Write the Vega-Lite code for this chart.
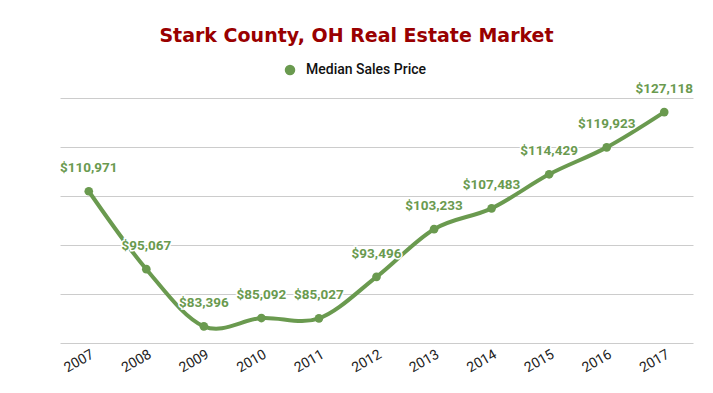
{
  "$schema": "https://vega.github.io/schema/vega-lite/v6.json",
  "width": 633,
  "height": 245,
  "autosize": {"type": "none"},
  "padding": {"left": 60, "top": 98, "right": 20, "bottom": 50},
  "background": "white",
  "title": {
    "text": "Stark County, OH Real Estate Market",
    "font": "DejaVu Sans",
    "fontSize": 19,
    "fontWeight": "bold",
    "color": "#990000",
    "anchor": "middle",
    "dx": -20,
    "offset": 17
  },
  "config": {
    "view": {"stroke": null},
    "font": "Roboto"
  },
  "data": {
    "values": [
      {"year": "2007", "price": 110971, "series": "Median Sales Price"},
      {"year": "2008", "price": 95067, "series": "Median Sales Price"},
      {"year": "2009", "price": 83396, "series": "Median Sales Price"},
      {"year": "2010", "price": 85092, "series": "Median Sales Price"},
      {"year": "2011", "price": 85027, "series": "Median Sales Price"},
      {"year": "2012", "price": 93496, "series": "Median Sales Price"},
      {"year": "2013", "price": 103233, "series": "Median Sales Price"},
      {"year": "2014", "price": 107483, "series": "Median Sales Price"},
      {"year": "2015", "price": 114429, "series": "Median Sales Price"},
      {"year": "2016", "price": 119923, "series": "Median Sales Price"},
      {"year": "2017", "price": 127118, "series": "Median Sales Price"}
    ]
  },
  "encoding": {
    "x": {
      "field": "year",
      "type": "ordinal",
      "scale": {"type": "point", "padding": 0.5},
      "axis": {
        "title": null,
        "domain": false,
        "ticks": false,
        "grid": false,
        "labelAngle": -30,
        "labelFont": "Roboto",
        "labelFontSize": 14,
        "labelColor": "#222222",
        "labelPadding": 4
      }
    },
    "y": {
      "field": "price",
      "type": "quantitative",
      "scale": {"domain": [80000, 130000], "nice": false, "zero": false},
      "axis": {
        "title": null,
        "labels": false,
        "ticks": false,
        "domain": false,
        "values": [80000, 90000, 100000, 110000, 120000, 130000],
        "gridColor": "#cccccc",
        "gridWidth": 1
      }
    }
  },
  "layer": [
    {
      "mark": {"type": "line", "interpolate": "cardinal", "strokeWidth": 4},
      "encoding": {
        "color": {
          "field": "series",
          "type": "nominal",
          "scale": {"domain": ["Median Sales Price"], "range": ["#6a9a4f"]},
          "legend": {
            "title": null,
            "orient": "none",
            "legendX": 223,
            "legendY": -35,
            "padding": 0,
            "symbolType": "circle",
            "symbolSize": 110,
            "symbolFillColor": "#6a9a4f",
            "symbolStrokeWidth": 0,
            "labelFont": "Roboto",
            "labelFontSize": 14,
            "labelFontWeight": 500,
            "labelColor": "#111111",
            "labelOffset": 9
          }
        }
      }
    },
    {
      "mark": {"type": "point", "filled": true, "size": 75, "opacity": 1, "color": "#6a9a4f"}
    },
    {
      "mark": {
        "type": "text",
        "dy": -23,
        "font": "Roboto",
        "fontSize": 13.5,
        "fontWeight": "bold",
        "color": "white",
        "stroke": "white",
        "strokeWidth": 3
      },
      "encoding": {
        "text": {"field": "price", "type": "quantitative", "format": "$,.0f"}
      }
    },
    {
      "mark": {
        "type": "text",
        "dy": -23,
        "font": "Roboto",
        "fontSize": 13.5,
        "fontWeight": "bold",
        "color": "#6a9a4f"
      },
      "encoding": {
        "text": {"field": "price", "type": "quantitative", "format": "$,.0f"}
      }
    }
  ]
}
